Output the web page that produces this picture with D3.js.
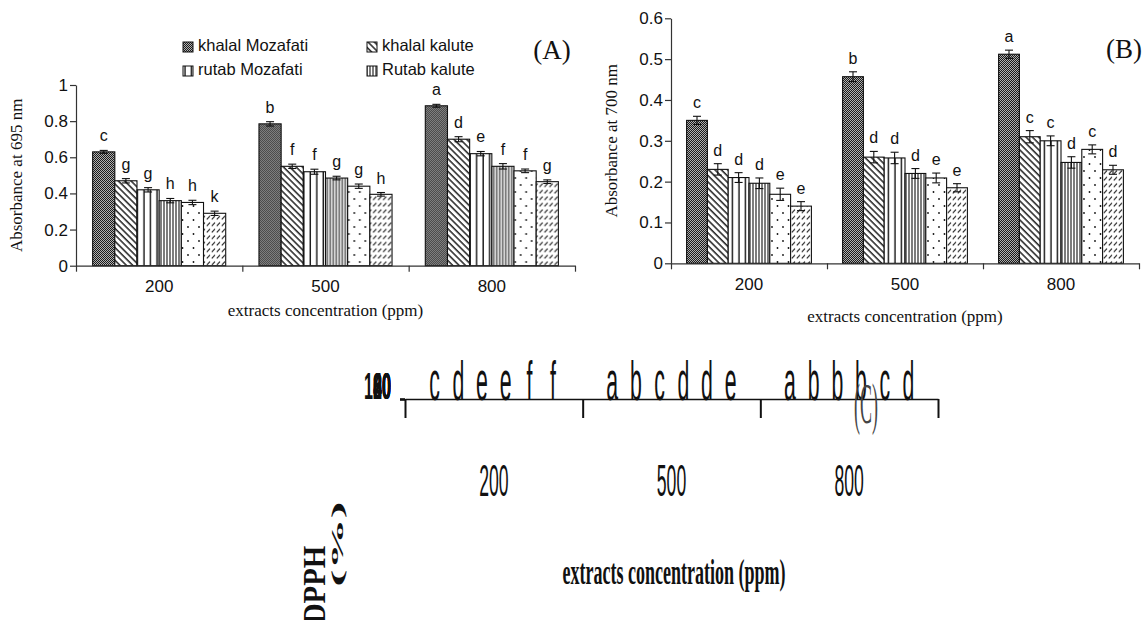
<!DOCTYPE html>
<html>
<head>
<meta charset="utf-8">
<script src="https://cdn.jsdelivr.net/npm/d3@7"></script>
<style>
  body { margin: 0; background: #fff; }
  svg { display: block; }
  .sans { font-family: "Liberation Sans", Arial, sans-serif; }
  .serif { font-family: "Liberation Serif", "Times New Roman", serif; }
</style>
</head>
<body>
<script>
// categories and series
const groups = ["200", "500", "800"];
const seriesNames = ["khalal Mozafati", "khalal kalute", "rutab Mozafati", "Rutab kalute", "tamar Mozafati", "tamar kalute"];

// panel A : absorbance at 695 nm
const absA = [[0.63, 0.47, 0.42, 0.36, 0.35, 0.29],
              [0.785, 0.55, 0.52, 0.485, 0.44, 0.395],
              [0.885, 0.70, 0.62, 0.55, 0.525, 0.465]];
const errA = [[0.008, 0.012, 0.012, 0.012, 0.012, 0.012],
              [0.012, 0.012, 0.014, 0.010, 0.012, 0.010],
              [0.008, 0.014, 0.012, 0.015, 0.010, 0.010]];
const lettersA = [["c", "g", "g", "h", "h", "k"], ["b", "f", "f", "g", "g", "h"], ["a", "d", "e", "f", "f", "g"]];
const ticksA = [0, 0.2, 0.4, 0.6, 0.8, 1];

// panel B : absorbance at 700 nm
const absB = [[0.35, 0.23, 0.21, 0.196, 0.169, 0.14],
              [0.457, 0.26, 0.258, 0.22, 0.209, 0.185],
              [0.512, 0.31, 0.30, 0.247, 0.279, 0.229]];
const errB = [[0.010, 0.014, 0.012, 0.013, 0.015, 0.011],
              [0.012, 0.014, 0.014, 0.012, 0.012, 0.010],
              [0.010, 0.015, 0.012, 0.014, 0.011, 0.011]];
const lettersB = [["c", "d", "d", "d", "e", "e"], ["b", "d", "d", "d", "e", "e"], ["a", "c", "c", "d", "c", "d"]];
const ticksB = [0, 0.1, 0.2, 0.3, 0.4, 0.5, 0.6];

// panel C : DPPH (%) - only the letters survive, the y scale is collapsed
const lettersC = [["c", "d", "e", "e", "f", "f"], ["a", "b", "c", "d", "d", "e"], ["a", "b", "b", "b", "c", "d"]];
const ticksC = [0, 20, 40, 60, 80, 100];

const W = 1145, H = 620;
const svg = d3.select("body").append("svg").attr("width", W).attr("height", H);

// ---- fill patterns ----
const defs = svg.append("defs");
function pat(id, w, h, tr) {
  const p = defs.append("pattern").attr("id", id).attr("patternUnits", "userSpaceOnUse")
    .attr("width", w).attr("height", h);
  if (tr) p.attr("patternTransform", tr);
  p.append("rect").attr("width", w).attr("height", h).attr("fill", "#fff");
  return p;
}
// checker (khalal Mozafati)
let p = pat("p0", 2, 2);
p.select("rect").attr("fill", "#b0b0b0");
p.append("rect").attr("width", 1).attr("height", 1).attr("fill", "#1a1a1a");
p.append("rect").attr("x", 1).attr("y", 1).attr("width", 1).attr("height", 1).attr("fill", "#1a1a1a");
// back diagonal (khalal kalute)
p = pat("p1", 4.5, 4.5, "rotate(-45)");
p.append("line").attr("x1", 1).attr("x2", 1).attr("y1", 0).attr("y2", 4.5).attr("stroke", "#111").attr("stroke-width", 1.4);
// wide verticals (rutab Mozafati)
p = pat("p2", 6.5, 4);
p.append("line").attr("x1", 3).attr("x2", 3).attr("y1", 0).attr("y2", 4).attr("stroke", "#111").attr("stroke-width", 1.4);
// dense verticals (Rutab kalute)
p = pat("p3", 3, 4);
p.append("line").attr("x1", 1).attr("x2", 1).attr("y1", 0).attr("y2", 4).attr("stroke", "#111").attr("stroke-width", 1.1);
// sparse dots
p = pat("p4", 11, 14);
p.append("circle").attr("cx", 2).attr("cy", 3).attr("r", 0.9).attr("fill", "#111");
p.append("circle").attr("cx", 7.5).attr("cy", 10).attr("r", 0.9).attr("fill", "#111");
// short slashes
p = pat("p5", 5, 6.5);
p.append("line").attr("x1", 0.8).attr("y1", 5).attr("x2", 4).attr("y2", 1.5).attr("stroke", "#111").attr("stroke-width", 1.1);

const fills = seriesNames.map((d, i) => "url(#p" + i + ")");

function label(g, txt, x, y, opt) {
  const t = g.append("text").attr("class", opt.cls || "sans")
    .attr("transform", "translate(" + x + "," + y + ")" + (opt.rot ? " rotate(" + opt.rot + ")" : "") + (opt.sx ? " scale(" + opt.sx + ",1)" : ""))
    .attr("text-anchor", opt.anchor || "middle")
    .attr("dominant-baseline", opt.base || "auto")
    .style("font-size", opt.size + "px")
    .attr("fill", opt.fill || "#111")
    .text(txt);
  if (opt.bold) t.style("font-weight", "bold");
  return t;
}

// ---- panels A and B ----
function drawPanel(cfg) {
  const g = svg.append("g");
  const y = d3.scaleLinear().domain([0, cfg.ymax]).range([cfg.y0, cfg.y1]);
  const x = d3.scaleBand().domain(groups).range([cfg.x0, cfg.x1]).paddingInner(0).paddingOuter(0);
  const xs = d3.scaleBand().domain(d3.range(seriesNames.length)).range([0, x.bandwidth()]).paddingInner(0).paddingOuter(0.75);

  groups.forEach((grp, gi) => {
    const gg = g.append("g").attr("transform", "translate(" + x(grp) + ",0)");
    const rows = seriesNames.map((s, si) => ({ si: si, v: cfg.vals[gi][si], e: cfg.errs[gi][si], l: cfg.letters[gi][si] }));
    gg.selectAll("rect.bar").data(rows).join("rect").attr("class", "bar")
      .attr("x", d => xs(d.si)).attr("width", xs.bandwidth())
      .attr("y", d => y(d.v)).attr("height", d => y(0) - y(d.v))
      .attr("fill", d => fills[d.si]).attr("stroke", "#111").attr("stroke-width", 1.1);
    // error bars
    const eb = gg.selectAll("g.eb").data(rows).join("g").attr("class", "eb")
      .attr("stroke", "#111").attr("stroke-width", 1.1);
    eb.append("line").attr("x1", d => xs(d.si) + xs.bandwidth() / 2).attr("x2", d => xs(d.si) + xs.bandwidth() / 2)
      .attr("y1", d => y(d.v - d.e)).attr("y2", d => y(d.v + d.e));
    [-1, 1].forEach(s => {
      eb.append("line").attr("x1", d => xs(d.si) + xs.bandwidth() / 2 - 4).attr("x2", d => xs(d.si) + xs.bandwidth() / 2 + 4)
        .attr("y1", d => y(d.v + s * d.e)).attr("y2", d => y(d.v + s * d.e));
    });
    rows.forEach(d => label(gg, d.l, xs(d.si) + xs.bandwidth() / 2, y(d.v + d.e) - cfg.gap, { size: 16 }));
  });

  // y axis
  const ya = g.append("g").attr("transform", "translate(" + cfg.x0 + ",0)")
    .call(d3.axisLeft(y).tickValues(cfg.ticks).tickSize(6).tickSizeOuter(0).tickFormat(d3.format("~g")));
  ya.select(".domain").attr("stroke", "#333").attr("stroke-width", 1.2);
  ya.selectAll(".tick line").attr("stroke", "#333").attr("stroke-width", 1.2);
  ya.selectAll(".tick text").attr("class", "sans").style("font-size", "17px").attr("fill", "#111").attr("x", -8);

  // x axis : ticks at band edges
  const edges = d3.scaleLinear().domain([0, groups.length]).range([cfg.x0, cfg.x1]);
  const xa = g.append("g").attr("transform", "translate(0," + cfg.y0 + ")")
    .call(d3.axisBottom(edges).tickValues(d3.range(groups.length + 1)).tickSize(6).tickSizeOuter(0).tickFormat(""));
  xa.select(".domain").attr("stroke", "#333").attr("stroke-width", 1.2);
  xa.selectAll(".tick line").attr("stroke", "#333").attr("stroke-width", 1.2);
  groups.forEach(grp => label(g, grp, x(grp) + x.bandwidth() / 2, cfg.y0 + 22, { size: 17, base: "middle" }));

  label(g, cfg.ytitle, cfg.ytx, (cfg.y0 + cfg.y1) / 2, { size: 17, cls: "serif", rot: -90, base: "middle" });
  label(g, "extracts concentration (ppm)", (cfg.x0 + cfg.x1) / 2, cfg.xty, { size: 17, cls: "serif", base: "middle" });
  label(g, cfg.tag, cfg.tagx, cfg.tagy, { size: 27, cls: "serif", base: "middle" });
  return g;
}

const gA = drawPanel({ x0: 76, x1: 575, y0: 265.7, y1: 85, ymax: 1, vals: absA, errs: errA, letters: lettersA, ticks: ticksA,
  gap: 9, ytitle: "Absorbance at 695 nm", ytx: 18, xty: 312, tag: "(A)", tagx: 552, tagy: 53 });
const gB = drawPanel({ x0: 671, x1: 1139, y0: 263.3, y1: 18.3, ymax: 0.6, vals: absB, errs: errB, letters: lettersB, ticks: ticksB,
  gap: 8, ytitle: "Absorbance at 700 nm", ytx: 613, xty: 318, tag: "(B)", tagx: 1124, tagy: 52 });

// legend of panel A (first four series)
const leg = svg.append("g");
seriesNames.slice(0, 4).forEach((s, i) => {
  const lx = i % 2 === 0 ? 183 : 367, ly = i < 2 ? 47 : 71;
  leg.append("rect").attr("x", lx).attr("y", ly - 5).attr("width", 10).attr("height", 10)
    .attr("fill", fills[i]).attr("stroke", "#111").attr("stroke-width", 1);
  label(leg, s, lx + 15, ly, { size: 16.5, anchor: "start", base: "middle" });
});

// ---- panel C : collapsed chart ----
const gC = svg.append("g");
const cx0 = 405, cx1 = 938, cy0 = 399;
const yC = d3.scaleLinear().domain([0, 100]).range([cy0, cy0]);
const xC = d3.scaleBand().domain(groups).range([cx0, cx1]);
const xsC = d3.scaleBand().domain(d3.range(seriesNames.length)).range([0, xC.bandwidth()]).paddingOuter(0.75);

groups.forEach((grp, gi) => {
  lettersC[gi].forEach((l, si) => {
    label(gC, l, xC(grp) + xsC(si) + xsC.bandwidth() / 2, yC(0) + 1, { size: 56, sx: 0.38 });
  });
});
const ycA = gC.append("g").attr("transform", "translate(" + cx0 + ",0)")
  .call(d3.axisLeft(yC).tickValues(ticksC).tickSize(5).tickSizeOuter(0));
ycA.selectAll(".tick line").attr("stroke", "#111").attr("stroke-width", 1.5);
ycA.selectAll(".tick text").remove();
ticksC.forEach(t => label(gC, String(t), 391, yC(t) - 10, { size: 36, sx: 0.45, anchor: "end", base: "middle", bold: true }));

const edgesC = d3.scaleLinear().domain([0, groups.length]).range([cx0, cx1]);
const xcA = gC.append("g").attr("transform", "translate(0," + cy0 + ")")
  .call(d3.axisBottom(edgesC).tickValues(d3.range(groups.length + 1)).tickSize(19).tickSizeOuter(0).tickFormat(""));
xcA.select(".domain").attr("stroke", "#111").attr("stroke-width", 1.6);
xcA.selectAll(".tick line").attr("stroke", "#111").attr("stroke-width", 2);
groups.forEach(grp => label(gC, grp, xC(grp) + xC.bandwidth() / 2, 484, { size: 44, sx: 0.4, base: "middle" }));

label(gC, "extracts concentration (ppm)", 674, 576, { size: 36, sx: 0.5, cls: "serif", bold: true, base: "middle" });
label(gC, "(C)", 866, 410, { size: 56, sx: 0.32, cls: "serif", base: "middle", fill: "#444" });
label(gC, "(%)", 339, 544, { size: 16, cls: "serif", rot: -90, bold: true, base: "middle", sx: 3.2 });
label(gC, "DPPH", 318, 585, { size: 32, cls: "serif", rot: -90, bold: true, base: "middle", sx: 0.9 });
</script>
</body>
</html>
